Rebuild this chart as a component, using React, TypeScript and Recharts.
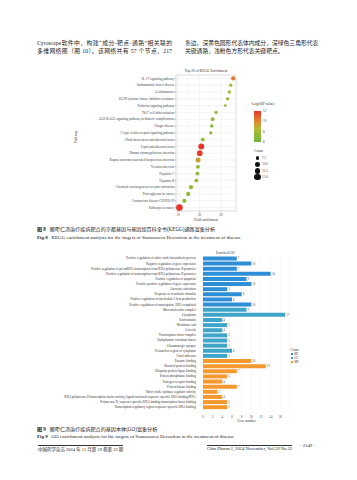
import React from "react";
import {
  ScatterChart, Scatter, XAxis, YAxis, ZAxis, CartesianGrid, Cell, ReferenceLine, ReferenceArea,
  BarChart, Bar, LabelList,
} from "recharts";

// KEGG (top 20), listed top to bottom
const keggPathways = [
  "IL-17 signaling pathway",
  "Inflammatory bowel disease",
  "Leishmaniasis",
  "EGFR tyrosine kinase inhibitor resistance",
  "Prolactin signaling pathway",
  "Th17 cell differentiation",
  "AGE-RAGE signaling pathway in diabetic complications",
  "Chagas disease",
  "C-type lectin receptor signaling pathway",
  "Fluid shear stress and atherosclerosis",
  "Lipid and atherosclerosis",
  "Human cytomegalovirus infection",
  "Kaposi sarcoma-associated herpesvirus infection",
  "Yersinia infection",
  "Hepatitis C",
  "Hepatitis B",
  "Chemical carcinogenesis-receptor activation",
  "Proteoglycans in cancer",
  "Coronavirus disease-COVID-19",
  "Pathways in cancer",
];
const keggFold = [35.7, 34.5, 33.9, 33.1, 32.0, 27.7, 26.1, 25.7, 25.2, 21.5, 20.8, 20.1, 19.3, 19.2, 19.0, 18.5, 16.0, 14.7, 12.9, 10.6];
const keggCount = [9, 7, 7, 7, 6, 7, 8, 7, 7, 8, 14, 13, 11, 8, 8, 8, 9, 9, 9, 16];
const keggLogP = [10.4, 8.2, 7.8, 7.2, 7.0, 7.4, 7.3, 7.0, 7.0, 7.6, 12.0, 11.8, 9.3, 7.3, 7.2, 7.6, 7.4, 7.3, 7.2, 12.3];

const foldTicks = [10, 20, 30];
const foldMinor = [15, 25, 35];
const logPTicks = [12, 10, 8, 6];
const countLegend = [7.5, 10.0, 12.5, 15.0];

// GO enrichment, listed top to bottom
const goTerms = [
  "Positive regulation of nitric oxide biosynthetic process",
  "Negative regulation of gene expression",
  "Positive regulation of pri-miRNA transcription from RNA polymerase II promoter",
  "Positive regulation of transcription from RNA polymerase II promoter",
  "Positive regulation of apoptosis",
  "Positive positive regulation of gene expression",
  "Astrocyte activation",
  "Response to xenobiotic stimulus",
  "Positive regulation of interleukin-1 beta production",
  "Positive regulation of transcription, DNA-templated",
  "Macromolecular complex",
  "Cytoplasm",
  "Euchromatin",
  "Membrane raft",
  "Caveola",
  "Transcription factor complex",
  "Endoplasmic reticulum lumen",
  "Glutamatergic synapse",
  "Perinuclear region of cytoplasm",
  "Focal adhesion",
  "Enzyme binding",
  "Identical protein binding",
  "Ubiquitin protein ligase binding",
  "Protein phosphatase binding",
  "Estrogen receptor binding",
  "Protein kinase binding",
  "Nitric-oxide synthase regulator activity",
  "RNA polymerase II transcription factor activity, ligand-activated sequence-specific DNA binding/RNA",
  "Polymerase II, sequence-specific DNA binding transcription factor binding",
  "Transcription regulatory region sequence-specific DNA binding",
];
const goCounts = [7, 10, 7, 14, 9, 10, 5, 8, 6, 10, 9, 17, 4, 5, 4, 5, 5, 5, 6, 5, 10, 13, 7, 5, 4, 7, 3, 4, 5, 5];
const goTypes = [
  "BP", "BP", "BP", "BP", "BP", "BP", "BP", "BP", "BP", "BP",
  "CC", "CC", "CC", "CC", "CC", "CC", "CC", "CC", "CC", "CC",
  "MF", "MF", "MF", "MF", "MF", "MF", "MF", "MF", "MF", "MF",
];
const geneTicks = [0, 2, 4, 6, 8, 10, 12, 14, 16];

const TYPE_COLORS: Record<string, string> = { BP: "#2f8fd6", CC: "#3ea5c9", MF: "#f4992f" };

const SERIF = '"Liberation Serif", "Noto Sans CJK SC", serif';
const CJK = '"Liberation Serif", "Noto Sans CJK SC", sans-serif';

// colour ramp for -log10(P)
const STOPS: [number, number[]][] = [
  [6, [112, 181, 62]],
  [8.5, [178, 186, 52]],
  [10, [224, 136, 50]],
  [12, [232, 52, 42]],
];
function pColor(v: number) {
  if (v <= STOPS[0][0]) return `rgb(${STOPS[0][1].join(",")})`;
  for (let i = 1; i < STOPS.length; i++) {
    if (v <= STOPS[i][0]) {
      const [a, ca] = STOPS[i - 1];
      const [b, cb] = STOPS[i];
      const t = (v - a) / (b - a);
      const c = ca.map((x, k) => Math.round(x + (cb[k] - x) * t));
      return `rgb(${c.join(",")})`;
    }
  }
  return `rgb(${STOPS[STOPS.length - 1][1].join(",")})`;
}

const Z_DOMAIN = [6, 16];
const Z_RANGE = [6, 34];
function dotRadius(c: number) {
  const area = Z_RANGE[0] + ((c - Z_DOMAIN[0]) / (Z_DOMAIN[1] - Z_DOMAIN[0])) * (Z_RANGE[1] - Z_RANGE[0]);
  return Math.sqrt(area / Math.PI);
}

const kegg = keggPathways.map((p, i) => ({ pathway: p, fold: keggFold[i], count: keggCount[i], logp: keggLogP[i] }));
const go = goTerms.map((t, i) => ({ term: t, count: goCounts[i], type: goTypes[i] }));

const abs = (left: number, top: number, extra: React.CSSProperties = {}): React.CSSProperties => ({
  position: "absolute", left, top, ...extra,
});

// plain svg tick, no wrapping
function Tick(props: any) {
  const { x, y, payload, fs, color, anchor, dyEm } = props;
  return (
    <text x={x} y={y} dy={fs * dyEm} textAnchor={anchor} fontSize={fs} fill={color} fontFamily={SERIF}>
      {payload.value}
    </text>
  );
}

function KeggChart() {
  return (
    <div style={abs(60, 62)}>
      <ScatterChart width={180} height={165} margin={{ top: 13, right: 4, bottom: 5, left: 0 }}>
        <CartesianGrid stroke="#e6e6e6" strokeWidth={0.4} />
        {foldMinor.map(v => (
          <ReferenceLine key={v} x={v} stroke="#f0f0f0" strokeWidth={0.3} />
        ))}
        <ReferenceArea x1={9} x2={37} fill="none" stroke="#b5b5b5" strokeWidth={0.4} />
        <XAxis
          type="number"
          dataKey="fold"
          domain={[9, 37]}
          ticks={foldTicks}
          interval={0}
          height={11}
          tick={(p: any) => <Tick {...p} fs={3.4} color="#444" anchor="middle" dyEm={0.9} />}
          tickSize={1.2}
          tickMargin={0.4}
          tickLine={{ stroke: "#777", strokeWidth: 0.4 }}
          axisLine={false}
        />
        <YAxis
          type="category"
          dataKey="pathway"
          width={116}
          interval={0}
          reversed
          tick={(p: any) => <Tick {...p} fs={3.3} color="#444" anchor="end" dyEm={0.35} />}
          tickSize={1.2}
          tickMargin={0.6}
          tickLine={{ stroke: "#777", strokeWidth: 0.4 }}
          axisLine={false}
          label={{ value: "Pathway", angle: -90, position: "insideLeft", offset: 16, fontSize: 3.6, fill: "#333", fontFamily: SERIF }}
        />
        <ZAxis type="number" dataKey="count" domain={Z_DOMAIN} range={Z_RANGE} />
        <Scatter data={kegg} isAnimationActive={false}>
          {kegg.map((d, i) => (
            <Cell key={i} fill={pColor(d.logp)} />
          ))}
        </Scatter>
      </ScatterChart>
    </div>
  );
}

function KeggLegend() {
  const barTop = 111;
  const barH = 31;
  const lo = 6, hi = 12;
  const grad = STOPS.map(([v, c]) => `rgb(${c.join(",")}) ${((v - lo) / (hi - lo)) * 100}%`).join(", ");
  return (
    <>
      <div style={abs(251, 102, { fontSize: 3.6, color: "#333", fontFamily: SERIF, whiteSpace: "nowrap" })}>
        -Log10(P value)
      </div>
      <div style={abs(254, barTop, { width: 7, height: barH, background: `linear-gradient(to top, ${grad})` })} />
      {logPTicks.map(v => (
        <div key={v} style={abs(263, barTop + ((hi - v) / (hi - lo)) * barH - 2, { fontSize: 3.4, color: "#444", fontFamily: SERIF })}>
          {v}
        </div>
      ))}
      <div style={abs(254, 149, { fontSize: 3.6, color: "#333", fontFamily: SERIF })}>Count</div>
      {countLegend.map((c, i) => {
        const r = dotRadius(c);
        const cy = 158 + i * 6.4;
        return (
          <React.Fragment key={c}>
            <div style={abs(257.5 - r, cy - r, { width: 2 * r, height: 2 * r, borderRadius: "50%", background: "#111" })} />
            <div style={abs(262, cy - 2, { fontSize: 3.4, color: "#444", fontFamily: SERIF })}>{c.toFixed(1)}</div>
          </React.Fragment>
        );
      })}
      <div style={abs(206, 218, { transform: "translateX(-50%)", fontSize: 3.6, color: "#333", fontFamily: SERIF, whiteSpace: "nowrap" })}>
        Fold enrichment
      </div>
    </>
  );
}

function GoChart() {
  return (
    <div style={abs(0, 248)}>
      <BarChart layout="vertical" width={305} height={175} data={go} margin={{ top: 7.7, right: 15, bottom: 7.4, left: 0 }} barCategoryGap="14%">
        <CartesianGrid horizontal={false} stroke="#ececec" strokeWidth={0.4} />
        <XAxis
          type="number"
          domain={[0, 18]}
          ticks={geneTicks}
          interval={0}
          height={6}
          tick={(p: any) => <Tick {...p} fs={3.3} color="#444" anchor="middle" dyEm={0.6} />}
          tickLine={false}
          axisLine={false}
          tickMargin={0.6}
        />
        <YAxis
          type="category"
          dataKey="term"
          width={203}
          interval={0}
          tick={(p: any) => <Tick {...p} fs={3.2} color="#333" anchor="end" dyEm={0.35} />}
          tickLine={false}
          axisLine={false}
          tickMargin={1.2}
        />
        <Bar dataKey="count" isAnimationActive={false}>
          {go.map((d, i) => (
            <Cell key={i} fill={TYPE_COLORS[d.type]} />
          ))}
          <LabelList dataKey="count" position="right" offset={1} fontSize={3} fill="#444" fontFamily={SERIF} />
        </Bar>
      </BarChart>
    </div>
  );
}

function GoLegend() {
  return (
    <>
      <div style={abs(216, 251, { fontSize: 3.5, color: "#333", fontFamily: SERIF, whiteSpace: "nowrap" })}>Enriched GO</div>
      <div style={abs(246.5, 418.6, { transform: "translateX(-50%)", fontSize: 3.5, lineHeight: "4px", color: "#333", fontFamily: SERIF, whiteSpace: "nowrap" })}>
        Gene number
      </div>
      <div style={abs(290.5, 347.5, { fontSize: 3.3, color: "#333", fontFamily: SERIF })}>Count</div>
      {["BP", "CC", "MF"].map((t, i) => (
        <React.Fragment key={t}>
          <div style={abs(291, 352.8 + i * 4, { width: 2.4, height: 2.4, background: TYPE_COLORS[t] })} />
          <div style={abs(294.2, 351.6 + i * 4, { fontSize: 3.2, color: "#333", fontFamily: SERIF })}>{t}</div>
        </React.Fragment>
      ))}
    </>
  );
}

const bodyLine = (width: number, full: boolean): React.CSSProperties => ({
  width,
  fontSize: 5.8,
  lineHeight: "8.4px",
  color: "#222",
  fontFamily: CJK,
  textAlign: "justify",
  textAlignLast: full ? "justify" : "left",
  whiteSpace: "nowrap",
});

export default function App() {
  return (
    <div style={{ position: "absolute", left: 0, top: 0, width: 357, height: 480, background: "#fff", overflow: "hidden" }}>
      <div style={abs(37, 38.5)}>
        <div style={bodyLine(135, true)}>Cytoscape软件中，构建“成分-靶点-通路”相关联的</div>
        <div style={bodyLine(135, true)}>多维网络图（图 10）。该网络共有 57 个节点，217</div>
      </div>
      <div style={abs(185, 38.5)}>
        <div style={bodyLine(133, true)}>条边，深黄色圆形代表体内成分，深绿色三角形代表</div>
        <div style={bodyLine(133, false)}>关键通路，浅粉色方形代表关键靶点。</div>
      </div>

      <div style={abs(206, 68.5, { transform: "translateX(-50%)", fontSize: 3.6, color: "#333", fontFamily: SERIF, whiteSpace: "nowrap" })}>
        Top 20 of KEGG Enrichment
      </div>
      <KeggChart />
      <KeggLegend />

      <div style={abs(37, 224.5, { fontSize: 5.1, color: "#222", fontFamily: CJK, whiteSpace: "nowrap" })}>
        <b>图 8</b>&nbsp;&nbsp;&nbsp;酸枣仁汤治疗疾病靶点的京都基因与基因组百科全书(KEGG)通路富集分析
      </div>
      <div style={abs(37, 234.5, { fontSize: 5.0, color: "#222", fontFamily: SERIF, whiteSpace: "nowrap" })}>
        <b>Fig 8</b>&nbsp;&nbsp;&nbsp;KEGG enrichment analysis for the targets of Suanzaoren Decoction in the treatment of disease
      </div>

      <GoChart />
      <GoLegend />

      <div style={abs(37, 424.5, { fontSize: 5.1, color: "#222", fontFamily: CJK, whiteSpace: "nowrap" })}>
        <b>图 9</b>&nbsp;&nbsp;&nbsp;酸枣仁汤治疗疾病靶点的基因本体(GO)富集分析
      </div>
      <div style={abs(37, 434, { fontSize: 5.0, color: "#222", fontFamily: SERIF, whiteSpace: "nowrap" })}>
        <b>Fig 9</b>&nbsp;&nbsp;&nbsp;GO enrichment analysis for the targets of Suanzaoren Decoction in the treatment of disease
      </div>

      <div style={abs(38, 444.5, { fontSize: 4.5, color: "#222", fontFamily: CJK, whiteSpace: "nowrap", borderTop: "1px solid #333" })}>
        中国药学杂志 2024 年 11 月第 59 卷第 22 期
      </div>
      <div style={abs(207, 444.5, { fontSize: 4.7, color: "#222", fontFamily: SERIF, whiteSpace: "nowrap", borderTop: "1px solid #333" })}>
        Chin Pharm J, 2024 November, Vol.59 No.22
      </div>
      <div style={abs(300, 443, { fontSize: 4.7, color: "#222", fontFamily: SERIF, whiteSpace: "nowrap" })}>
        · 2149 ·
      </div>
    </div>
  );
}
